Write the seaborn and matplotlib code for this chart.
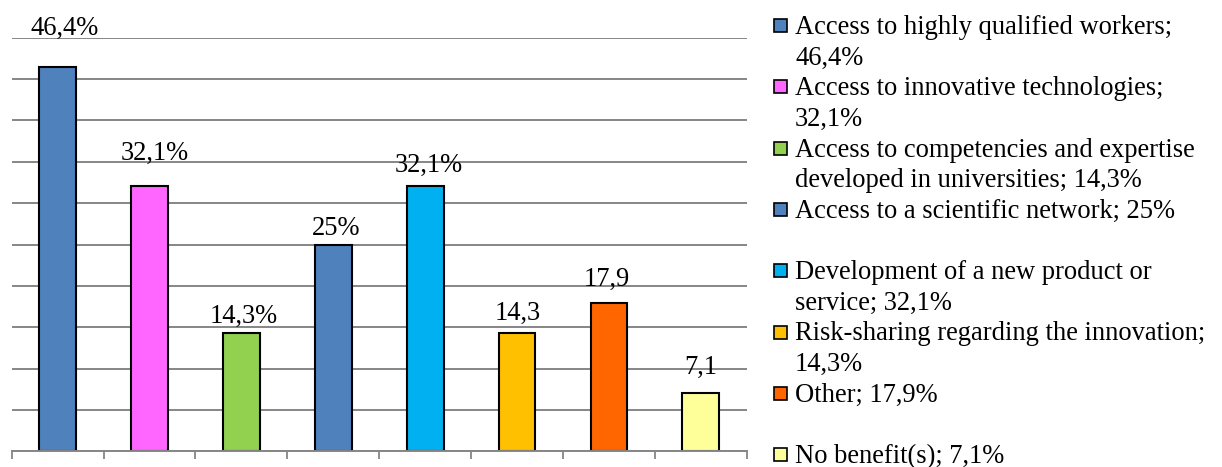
import numpy as np
import pandas as pd
import matplotlib
matplotlib.use("Agg")
import matplotlib.pyplot as plt
from matplotlib.patches import Rectangle
import seaborn as sns

# ---- data ----
categories = [
    "Access to highly qualified workers",
    "Access to innovative technologies",
    "Access to competencies and expertise developed in universities",
    "Access to a scientific network",
    "Development of a new product or service",
    "Risk-sharing regarding the innovation",
    "Other",
    "No benefit(s)",
]
values = [46.4, 32.1, 14.3, 25.0, 32.1, 14.3, 17.9, 7.1]
bar_labels = ["46,4%", "32,1%", "14,3%", "25%", "32,1%", "14,3", "17,9", "7,1"]
legend_labels = [
    "Access to highly qualified workers;\n46,4%",
    "Access to innovative technologies;\n32,1%",
    "Access to competencies and expertise\ndeveloped in universities; 14,3%",
    "Access to a scientific network; 25%",
    "Development of a new product or\nservice; 32,1%",
    "Risk-sharing regarding the innovation;\n14,3%",
    "Other; 17,9%",
    "No benefit(s); 7,1%",
]
colors = ["#4F81BD", "#FF66FF", "#92D050", "#4F81BD",
          "#00B0F0", "#FFC000", "#FF6600", "#FFFF99"]
# label placement tweaks relative to bar top (pixels)
label_dy_px = [33, 26, 10, 10, 14, 13, 17, 19]
label_dx_px = [7, 5, 2, 3, 4, 1, -2, 0]

df = pd.DataFrame({"cat": categories, "val": values})

sns.set_style("white")
plt.rcParams["font.family"] = ["Liberation Serif", "DejaVu Serif"]

W, H = 1222, 467
fig = plt.figure(figsize=(W / 100, H / 100), dpi=100)
left, right, top, bottom = 11.7, 746.7, 37.7, 451.3
ax = fig.add_axes([left / W, 1 - bottom / H, (right - left) / W, (bottom - top) / H])

sns.barplot(data=df, x="cat", y="val", hue="cat", palette=colors,
            dodge=False, legend=False, width=0.4, ax=ax,
            edgecolor="black", linewidth=1.5, saturation=1)

ax.set_ylim(0, 50)
ax.set_xlim(-0.5, len(categories) - 0.5)
ax.set_yticks(np.arange(0, 51, 5))
ax.set_yticklabels([])
ax.tick_params(axis="y", length=0, left=False)
ax.yaxis.grid(True, color="#868686", linewidth=1.4)
ax.set_axisbelow(True)
ax.set_xlabel("")
ax.set_ylabel("")
ax.set_xticks(np.arange(-0.5, len(categories), 1.0))
ax.set_xticklabels([])
ax.tick_params(axis="x", bottom=True, length=6, width=1.3, color="#868686",
               direction="out")
for s in ["top", "right", "left"]:
    ax.spines[s].set_visible(False)
ax.spines["bottom"].set_color("#868686")
ax.spines["bottom"].set_linewidth(1.4)

fs = 19.1
for i, (v, lab) in enumerate(zip(values, bar_labels)):
    ax.annotate(lab, xy=(i, v),
                xytext=(label_dx_px[i] * 0.72, label_dy_px[i] * 0.72),
                textcoords="offset points", ha="center", va="baseline",
                fontsize=fs, color="black", annotation_clip=False)

# ---- legend (manual, Excel-style with 2-line slots) ----
sq_x, sq_size = 774, 13
txt_x = 795
base0 = 34.0
slot = 61.3
line_h = 30.6
for i, (lab, c) in enumerate(zip(legend_labels, colors)):
    b = base0 + i * slot
    for j, line in enumerate(lab.split("\n")):
        fig.text(txt_x / W, 1 - (b + j * line_h) / H, line, fontsize=fs,
                 ha="left", va="baseline", color="black")
    cy = b - 8.5
    fig.patches.append(Rectangle((sq_x / W, 1 - (cy + sq_size / 2) / H),
                                 sq_size / W, sq_size / H, transform=fig.transFigure,
                                 facecolor=c, edgecolor="black", linewidth=1.2))

fig.savefig("out.png", dpi=100)
